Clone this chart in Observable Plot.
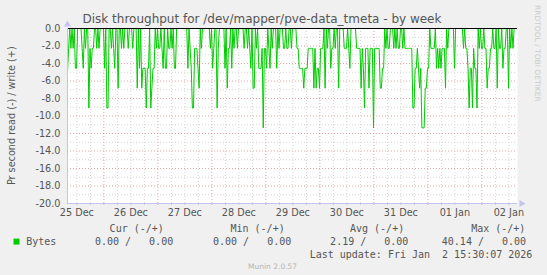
<!DOCTYPE html>
<html><head><meta charset="utf-8">
<script src="https://cdn.jsdelivr.net/npm/d3@7"></script>
<script src="https://cdn.jsdelivr.net/npm/@observablehq/plot@0.6"></script>
<style>
html,body{margin:0;padding:0;background:#f0f0f0;}
#chart{width:547px;height:275px;overflow:hidden;}
svg text{white-space:pre;}
</style>
</head><body><div id="chart"></div>
<script>
// read rate (plotted negative), one value per 30 minutes
const readRate = [
-5.0,-2.27,0,-2.27,0,-2.27,0,-4.55,-4.55,0,0,0,0,-2.27,-4.55,0,-2.27,0,0,-9.09,
-2.27,-4.55,-2.27,-2.27,0,0,-2.27,0,-2.27,0,0,0,0,-4.55,0,-9.09,-9.09,0,0,-2.27,
0,-2.27,-4.55,0,0,-6.82,0,0,-2.27,0,-2.27,0,0,0,-2.27,0,0,0,-2.27,0,
0,0,-6.82,0,-4.55,0,-6.82,-4.55,-4.55,-4.55,-9.09,-4.55,-4.55,0,-9.09,-6.82,-4.55,-4.55,0,-2.27,
0,-2.27,-2.27,0,-2.27,-4.55,0,-4.55,-4.55,0,-2.27,-2.27,0,-2.27,0,-4.55,-4.55,0,0,0,
0,0,0,0,0,0,0,-4.55,0,-2.27,-4.55,-9.09,-9.09,-2.27,-2.27,-2.27,-4.55,-6.82,0,-2.27,
0,0,0,0,0,0,0,-2.27,0,-4.55,-2.27,0,0,-9.09,-2.27,0,0,0,0,0,
-4.55,0,-6.82,-2.27,-2.27,0,-4.55,0,-2.27,0,0,-2.27,0,0,0,0,0,-2.27,0,0,
-2.27,0,-2.27,-4.55,0,-6.82,-6.82,0,-2.27,0,-4.55,-4.55,-4.55,-2.27,-11.36,-2.27,-2.27,-4.55,0,-2.27,
-4.55,0,-2.27,0,0,0,-4.55,0,-2.27,0,0,0,-2.27,-2.27,0,-2.27,-2.27,0,0,-2.27,
0,0,0,0,-2.27,-2.27,-4.55,-4.55,-4.55,-4.55,-6.82,-4.55,-4.55,-4.55,-2.27,-2.27,-2.27,-2.27,-2.27,-6.82,
-2.27,-6.82,-4.55,-4.55,-6.82,-2.27,-2.27,-2.27,0,-6.82,0,-2.27,0,0,-4.55,-2.27,-2.27,0,-2.27,0,
0,-6.82,0,0,0,0,-2.27,-2.27,-2.27,0,-2.27,-4.55,0,0,0,0,0,-2.27,-2.27,-2.27,
-2.27,-6.82,-2.27,-4.55,-9.09,-2.27,-2.27,-2.27,-6.82,-2.27,-2.27,-2.27,-11.36,-2.27,-2.27,-2.27,-2.27,-2.27,-6.82,-6.82,
-4.55,-4.55,0,-2.27,0,-2.27,-2.27,0,0,0,-2.27,0,-2.27,0,-2.27,-2.27,0,0,-2.27,0,
-2.27,-2.27,-2.27,-2.27,-2.27,-2.27,-2.27,-9.09,-9.09,-4.55,-4.55,-2.27,-4.55,-6.82,-4.55,-11.36,-11.36,-11.36,-6.82,-6.82,
-4.55,-4.55,0,-2.27,-2.27,-2.27,-2.27,0,-4.55,-2.27,-4.55,-2.27,-4.55,-2.27,-2.27,-2.27,-6.82,0,-2.27,0,
0,0,0,0,-4.55,0,0,0,0,0,0,0,-2.27,0,-2.27,-2.27,-4.55,-9.09,-4.55,-4.55,
-9.09,-2.27,-4.55,-4.55,-9.09,0,-2.27,0,-2.27,-2.27,0,-2.27,-2.27,-6.82,-4.55,-4.55,-2.27,-2.27,0,-2.27,
-2.27,0,-6.82,0,-2.27,-2.27,0,-4.55,-2.27,-2.27,0,0,-6.82,0,-2.27,0,-2.27,0,0,0
];
const seriesStart = Date.UTC(2025, 11, 25, 7, 50);
const stepMinutes = 30;
const windowHours = 200;
const dayLabels = ["25 Dec","26 Dec","27 Dec","28 Dec","29 Dec","30 Dec","31 Dec","01 Jan","02 Jan"];
const yTickValues = [0,-2,-4,-6,-8,-10,-12,-14,-16,-18,-20];
const yMinorValues = [-1,-3,-5,-7,-9,-11,-13,-15,-17,-19];
const legendHeaders = ["Cur (-/+)","Min (-/+)","Avg (-/+)","Max (-/+)"];
const legendValues = ["0.00 /   0.00","0.00 /   0.00","2.19 /   0.00","40.14 /   0.00"];
const seriesName = "Bytes";
const titleText = "Disk throughput for /dev/mapper/pve-data_tmeta - by week";
const yLabel = "Pr second read (-) / write (+)";
const lastUpdate = "Last update: Fri Jan  2 15:30:07 2026";
const footer = "Munin 2.0.57";
const watermark = "RRDTOOL / TOBI OETIKER";

const data = readRate.map((v, i) => ({t: new Date(seriesStart + i * stepMinutes * 60000), v}));
const xStart = new Date(seriesStart);
const xEnd = new Date(seriesStart + windowHours * 3600000);
const labelTicks = dayLabels.map((_, k) => new Date(Date.UTC(2025, 11, 25 + k, 12)));
const labelByTime = new Map(labelTicks.map((d, k) => [+d, dayLabels[k]]));
const majorX = d3.utcDay.range(xStart, xEnd);
const minorX = d3.utcHour.every(6).range(xStart, xEnd).filter(d => d.getUTCHours() !== 0);

const gridMinor = "#d4d4d4", gridMajor = "#e6a4a4", axisCol = "#c4c4f0", textCol = "#555";

const svg = Plot.plot({
  width: 547, height: 275,
  marginLeft: 67, marginRight: 30, marginTop: 28, marginBottom: 72,
  style: {background: "#f0f0f0", fontFamily: "'DejaVu Sans', sans-serif", fontSize: "9.7px", color: textCol, overflow: "visible"},
  x: {type: "utc", domain: [xStart, xEnd], label: null},
  y: {domain: [-20, 0], label: null},
  marks: [
    Plot.frame({fill: "white", stroke: "none"}),
    Plot.ruleY(yMinorValues, {stroke: gridMinor, strokeDasharray: "1,2"}),
    Plot.ruleX(minorX, {stroke: gridMinor, strokeDasharray: "1,2"}),
    Plot.ruleY(yTickValues.filter(d => d !== 0 && d !== -20), {stroke: gridMajor, strokeDasharray: "1,2"}),
    Plot.ruleX(majorX, {stroke: gridMajor, strokeDasharray: "1,2"}),
    Plot.axisX(minorX, {tickSize: 2, stroke: "#c8c8c8", fill: "none", label: null}),
    Plot.axisX(majorX, {tickSize: 2, stroke: gridMajor, fill: "none", label: null}),
    Plot.axisY(yTickValues, {tickSize: 0, tickPadding: 7, tickFormat: d => d.toFixed(1), fill: textCol, label: null}),
    Plot.axisX(labelTicks, {tickSize: 0, tickPadding: 6, tickFormat: d => labelByTime.get(+d), fill: textCol, label: null}),
    Plot.line(data, {x: "t", y: "v", stroke: "#00cc00", strokeWidth: 1}),
    Plot.ruleY([0], {stroke: "#000"}),
    Plot.ruleY([-20], {stroke: axisCol}),
    Plot.ruleX([xStart], {stroke: axisCol}),
    Plot.dot([0], {x: () => xStart, y: () => 0, symbol: "triangle", r: 2.6, fill: axisCol, stroke: "none", dy: -4}),
    Plot.dot([0], {x: () => xEnd, y: () => -20, symbol: "triangle", r: 2.6, fill: axisCol, stroke: "none", dx: 4, rotate: 90})
  ]
});
document.getElementById("chart").appendChild(svg);

const s = d3.select(svg);
s.append("text").attr("x", 262).attr("y", 23.3).attr("text-anchor", "middle")
  .attr("font-family", "'DejaVu Sans'").attr("font-size", "12px").attr("fill", textCol).text(titleText);
s.append("text").attr("transform", "translate(15.2,115.7) rotate(-90)").attr("text-anchor", "middle")
  .attr("font-family", "'DejaVu Sans'").attr("font-size", "9.7px").attr("fill", textCol).text(yLabel);
s.append("text").attr("transform", "translate(534.5,5) rotate(90)").attr("text-anchor", "start")
  .attr("font-family", "'DejaVu Sans'").attr("font-size", "7.5px").attr("fill", "#cccccc").text(watermark);

const mono = "'DejaVu Sans Mono', monospace";
const headerEnds = [163.8, 284.7, 404.2, 525.4];
const valueEnds = [173.2, 291.3, 408.4, 526.1];
legendHeaders.forEach((h, k) => {
  s.append("text").attr("x", headerEnds[k]).attr("y", 232.2).attr("text-anchor", "end")
    .attr("font-family", mono).attr("font-size", "10px").attr("fill", textCol).text(h);
});
legendValues.forEach((v, k) => {
  s.append("text").attr("x", valueEnds[k]).attr("y", 245.1).attr("text-anchor", "end")
    .attr("font-family", mono).attr("font-size", "10px").attr("fill", textCol).text(v);
});
s.append("rect").attr("x", 13.5).attr("y", 238.6).attr("width", 6).attr("height", 6).attr("fill", "#00cc00");
s.append("text").attr("x", 26.2).attr("y", 245.1).attr("text-anchor", "start").attr("font-family", mono).attr("font-size", "10px")
  .attr("fill", textCol).text(seriesName);
s.append("text").attr("x", 532.4).attr("y", 257.6).attr("text-anchor", "end").attr("font-family", mono)
  .attr("font-size", "10px").attr("fill", textCol).text(lastUpdate);
s.append("text").attr("x", 272.6).attr("y", 268.9).attr("text-anchor", "middle").attr("font-family", "'DejaVu Sans'")
  .attr("font-size", "7.5px").attr("fill", "#b4b4b4").text(footer);
</script>
</body></html>
